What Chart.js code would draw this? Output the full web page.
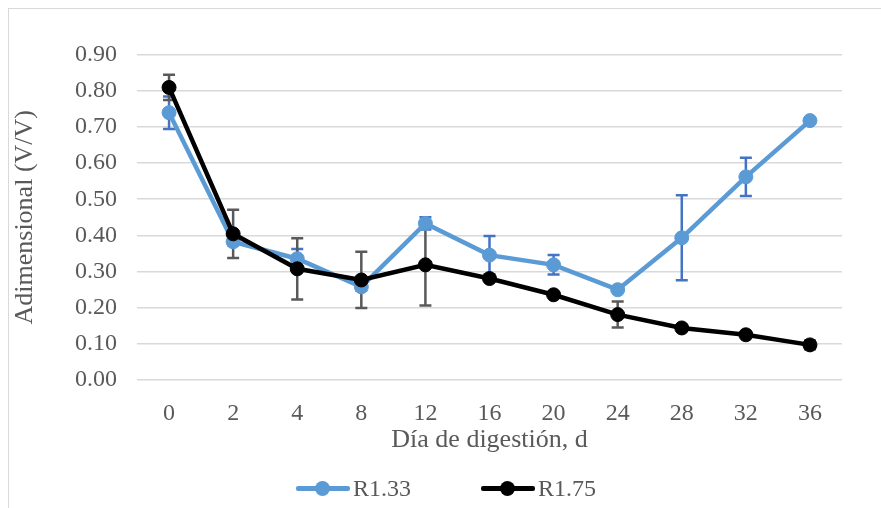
<!DOCTYPE html>
<html>
<head>
<meta charset="utf-8">
<script src="https://cdn.jsdelivr.net/npm/chart.js@4.4.1/dist/chart.umd.min.js"></script>
<style>
  body { margin: 0; background: #fff; }
  #wrap { position: relative; width: 881px; height: 508px; overflow: hidden; }
  #marco { position: absolute; left: 8px; top: 8px; width: 900px; height: 520px; border-top: 1.5px solid #d9d9d9; border-left: 1.5px solid #d9d9d9; }
  #leyenda { position: absolute; top: 474px; left: 0; width: 881px; height: 28px; font-family: "Liberation Serif", serif; font-size: 24px; color: #595959; }
  .item { position: absolute; top: 0; line-height: 28px; }
  .linea { position: absolute; top: 12px; width: 54px; height: 4.5px; border-radius: 2px; }
  .punto { position: absolute; top: 6.5px; width: 15px; height: 15px; border-radius: 50%; }
  .texto { position: absolute; top: 0; white-space: nowrap; }
</style>
</head>
<body>
<div id="wrap">
  <div id="marco"></div>
  <canvas id="grafico"></canvas>
  <div id="leyenda">
    <div class="item" style="left:296px">
      <div class="linea" style="left:0;background:#5b9bd5"></div>
      <div class="punto" style="left:19px;background:#5b9bd5"></div>
      <div class="texto" style="left:57px">R1.33</div>
    </div>
    <div class="item" style="left:481px">
      <div class="linea" style="left:0;background:#000"></div>
      <div class="punto" style="left:19px;background:#000"></div>
      <div class="texto" style="left:57px">R1.75</div>
    </div>
  </div>
</div>
<script>
// =================== DATOS ===================
const dias = ['0', '2', '4', '8', '12', '16', '20', '24', '28', '32', '36'];
const valoresR133 = [0.74, 0.382, 0.335, 0.257, 0.433, 0.345, 0.318, 0.249, 0.393, 0.562, 0.718];
const valoresR175 = [0.81, 0.404, 0.307, 0.276, 0.318, 0.28, 0.235, 0.18, 0.143, 0.124, 0.096];
// desviación (barras de error)
const errorR133 = [0.045, 0.01, 0.027, 0.01, 0.017, 0.053, 0.027, 0, 0.118, 0.053, 0];
const errorR175 = [0.035, 0.067, 0.085, 0.078, 0.113, 0, 0, 0.036, 0, 0, 0.012];
const ticksY = [0, 0.1, 0.2, 0.3, 0.4, 0.5, 0.6, 0.7, 0.8, 0.9];

const fuente = "'Liberation Serif', 'Times New Roman', serif";
const gris = '#595959';

// Barras de error dibujadas con las escalas del gráfico
const barrasError = {
  id: 'barrasError',
  beforeDatasetsDraw(chart) {
    const ctx = chart.ctx;
    const x = chart.scales.x;
    const y = chart.scales.y;
    chart.data.datasets.forEach(ds => {
      ctx.save();
      ctx.strokeStyle = ds.colorError;
      ctx.lineWidth = 2.5;
      ds.data.forEach((v, i) => {
        const e = ds.errores[i];
        if (!e) return;
        const px = x.getPixelForValue(i);
        const arriba = y.getPixelForValue(v + e);
        const abajo = y.getPixelForValue(v - e);
        ctx.beginPath();
        ctx.moveTo(px, arriba);
        ctx.lineTo(px, abajo);
        ctx.moveTo(px - 6, arriba);
        ctx.lineTo(px + 6, arriba);
        ctx.moveTo(px - 6, abajo);
        ctx.lineTo(px + 6, abajo);
        ctx.stroke();
      });
      ctx.restore();
    });
  }
};

const canvas = document.getElementById('grafico');
canvas.width = 881;
canvas.height = 508;

new Chart(canvas, {
  type: 'line',
  data: {
    labels: dias,
    datasets: [
      {
        label: 'R1.33',
        data: valoresR133,
        errores: errorR133,
        colorError: '#4472c4',
        borderColor: '#5b9bd5',
        backgroundColor: '#5b9bd5',
        borderWidth: 4.5,
        pointRadius: 7,
        pointBorderWidth: 1,
        pointHoverRadius: 7,
        tension: 0,
        order: 1
      },
      {
        label: 'R1.75',
        data: valoresR175,
        errores: errorR175,
        colorError: gris,
        borderColor: '#000000',
        backgroundColor: '#000000',
        borderWidth: 4.5,
        pointRadius: 7,
        pointBorderWidth: 1,
        pointHoverRadius: 7,
        tension: 0,
        order: 0
      }
    ]
  },
  options: {
    responsive: false,
    animation: false,
    devicePixelRatio: 1,
    layout: { padding: { left: 0, top: 55, right: 39, bottom: 48 } },
    plugins: {
      legend: { display: false },
      tooltip: { enabled: false }
    },
    scales: {
      x: {
        offset: true,
        grid: { display: false },
        border: { display: false },
        ticks: { color: gris, font: { family: fuente, size: 24 }, padding: 12, maxRotation: 0 },
        title: {
          display: true,
          text: 'Día de digestión, d',
          color: gris,
          font: { family: fuente, size: 26 },
          padding: { top: 0, bottom: 4 }
        },
        afterFit(scale) { scale.height = 80.5; }
      },
      y: {
        min: 0,
        max: 0.9,
        afterBuildTicks(scale) { scale.ticks = ticksY.map(v => ({ value: v })); },
        grid: { color: '#d9d9d9', lineWidth: 1.5, drawTicks: false },
        border: { display: false },
        ticks: {
          color: gris,
          font: { family: fuente, size: 24 },
          padding: 20,
          callback: v => Number(v).toFixed(2)
        },
        title: {
          display: true,
          text: 'Adimensional (V/V)',
          color: gris,
          font: { family: fuente, size: 26 },
          padding: { top: 10, bottom: 0 }
        },
        afterFit(scale) { scale.width = 137; }
      }
    }
  },
  plugins: [barrasError]
});
</script>
</body>
</html>
